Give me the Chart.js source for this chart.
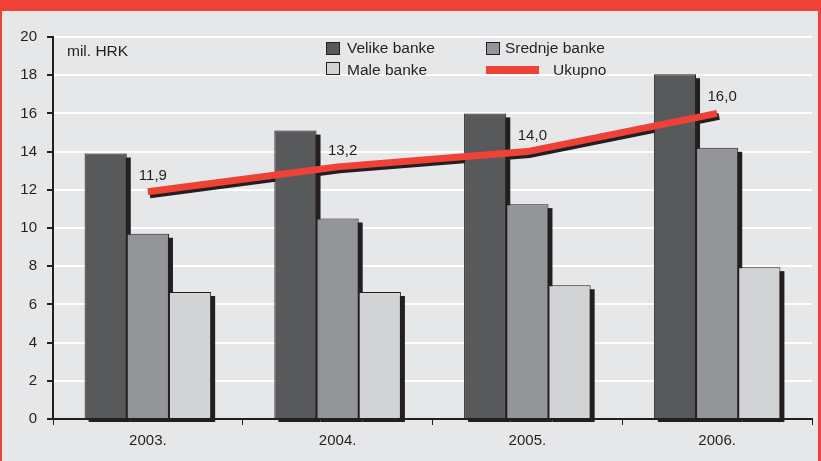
<!DOCTYPE html>
<html>
<head>
<meta charset="utf-8">
<script src="https://cdn.jsdelivr.net/npm/chart.js@4.4.1/dist/chart.umd.min.js"></script>
<style>
  html, body { margin: 0; padding: 0; }
  body { width: 821px; height: 461px; background: #e6e7e9; position: relative; overflow: hidden; }
  #wrap { position: absolute; left: 0; top: 0; width: 821px; height: 461px; }
  .band { position: absolute; left: 0; top: 0; width: 821px; height: 11px; background: #ef4136; }
  .bl { position: absolute; left: 0; top: 0; width: 2px; height: 461px; background: #ef4136; }
  .br { position: absolute; right: 0; top: 0; width: 3px; height: 461px; background: #ef4136; }
</style>
</head>
<body>
<div id="wrap"><canvas id="myChart" width="821" height="461"></canvas></div>
<div class="band"></div>
<div class="bl"></div>
<div class="br"></div>
<script>
// podaci
const years = ['2003.', '2004.', '2005.', '2006.'];
const velike = [13.9, 15.1, 16.0, 18.05];
const srednje = [9.7, 10.5, 11.25, 14.2];
const male = [6.65, 6.65, 7.0, 7.95];
const ukupno = [11.9, 13.2, 14.0, 16.0];
const yTicks = [0, 2, 4, 6, 8, 10, 12, 14, 16, 18, 20];

const txt = '#231f20';
const red = '#ef4136';
const font = { family: 'Liberation Sans, Arial, sans-serif', size: 15 };
Chart.defaults.font.family = font.family;
Chart.defaults.color = txt;

// sjene ispod stupaca i linije, oznake i legenda
const shadowPlugin = {
    id: 'shadows',
    beforeDatasetsDraw(chart) {
        const ctx = chart.ctx;
        ctx.save();
        ctx.fillStyle = '#231f20';
        chart.data.datasets.forEach((ds, i) => {
            if (ds.type !== 'bar') return;
            chart.getDatasetMeta(i).data.forEach(bar => {
                const w = bar.width;
                ctx.fillRect(bar.x - w / 2 + 4, bar.y + 4, w, bar.base - bar.y);
            });
        });
        const meta = chart.getDatasetMeta(0);
        ctx.strokeStyle = '#231f20';
        ctx.lineWidth = 7;
        ctx.beginPath();
        meta.data.forEach((p, j) => {
            if (j === 0) ctx.moveTo(p.x + 2, p.y + 3);
            else ctx.lineTo(p.x + 2, p.y + 3);
        });
        ctx.stroke();
        ctx.restore();
    },
    afterDatasetsDraw(chart) {
        const ctx = chart.ctx;
        ctx.save();
        ctx.font = '15px ' + font.family;
        ctx.fillStyle = txt;
        ctx.textAlign = 'center';
        ctx.textBaseline = 'alphabetic';
        chart.getDatasetMeta(0).data.forEach((p, j) => {
            ctx.fillText(ukupno[j].toFixed(1).replace('.', ','), p.x + 5, p.y - 12);
        });
        ctx.restore();
    },
    afterDraw(chart) {
        // legenda
        const ctx = chart.ctx;
        ctx.save();
        ctx.font = '15.5px ' + font.family;
        ctx.fillStyle = txt;
        ctx.textBaseline = 'alphabetic';
        ctx.fillText('mil. HRK', 67, 56);
        const box = (x, y, c) => {
            ctx.fillStyle = c;
            ctx.fillRect(x, y, 14, 13);
            ctx.strokeStyle = txt;
            ctx.lineWidth = 1;
            ctx.strokeRect(x + 0.5, y + 0.5, 13, 12);
        };
        box(326, 42, '#58595b');
        box(486, 42, '#939598');
        box(326, 62, '#d1d3d4');
        ctx.fillStyle = red;
        ctx.fillRect(486, 66, 53, 8);
        ctx.fillStyle = txt;
        ctx.fillText('Velike banke', 347, 53);
        ctx.fillText('Srednje banke', 505, 53);
        ctx.fillText('Male banke', 347, 75);
        ctx.fillText('Ukupno', 553, 75);
        ctx.restore();
    }
};

const ctx = document.getElementById('myChart').getContext('2d');
const myChart = new Chart(ctx, {
    data: {
        labels: years,
        datasets: [{
            type: 'line',
            label: 'Ukupno',
            data: ukupno,
            borderColor: red,
            borderWidth: 7,
            borderCapStyle: 'butt',
            pointRadius: 0,
            tension: 0,
            order: 0
        }, {
            type: 'bar',
            label: 'Velike banke',
            data: velike,
            backgroundColor: '#58595b',
            borderColor: txt,
            borderWidth: 1,
            order: 1
        }, {
            type: 'bar',
            label: 'Srednje banke',
            data: srednje,
            backgroundColor: '#939598',
            borderColor: txt,
            borderWidth: 1,
            order: 1
        }, {
            type: 'bar',
            label: 'Male banke',
            data: male,
            backgroundColor: '#d1d3d4',
            borderColor: txt,
            borderWidth: 1,
            order: 1
        }]
    },
    options: {
        responsive: false,
        animation: false,
        layout: { padding: { left: 0, top: 37, right: 9, bottom: 0 } },
        datasets: { bar: { categoryPercentage: 0.667, barPercentage: 1.0 } },
        scales: {
            x: {
                offset: true,
                grid: { offset: true, drawOnChartArea: false, tickColor: txt, tickLength: 6, tickWidth: 1 },
                border: { color: txt, width: 2 },
                ticks: { font: font, color: txt, padding: 7 },
                afterFit(scale) { scale.height = 42; }
            },
            y: {
                min: 0,
                max: 20,
                afterBuildTicks(scale) { scale.ticks = yTicks.map(v => ({ value: v })); },
                grid: { color: '#ffffff', lineWidth: 2, tickColor: txt, tickLength: 6 },
                border: { color: txt, width: 2 },
                ticks: { font: font, color: txt, padding: 10 },
                afterFit(scale) { scale.width = 53; }
            }
        },
        plugins: {
            legend: { display: false },
            tooltip: { enabled: false }
        }
    },
    plugins: [shadowPlugin]
});
</script>
</body>
</html>
